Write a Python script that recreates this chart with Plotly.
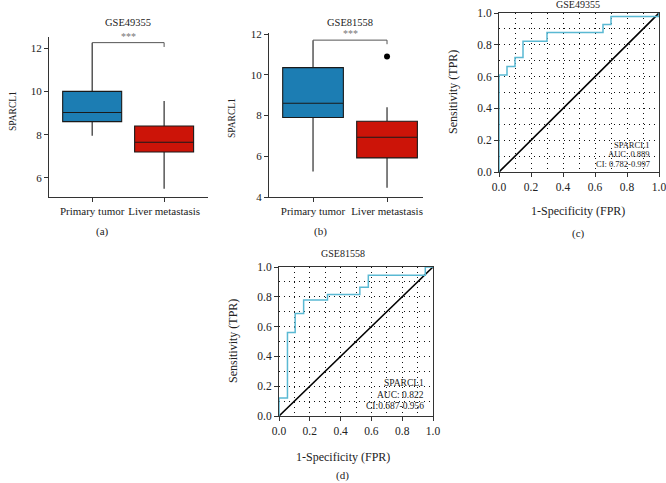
import plotly.graph_objects as go

FONT = "Liberation Serif"
BLUE = "#1c7db3"
RED = "#cc1408"
CYAN = "#5ab9d3"

groups = ["Primary tumor", "Liver metastasis"]

# panel (a) GSE49355 box stats
a_q1 = [8.6, 7.2]
a_med = [9.02, 7.65]
a_q3 = [10.0, 8.4]
a_low = [7.95, 5.5]
a_high = [12.25, 9.55]
a_bracket = [12.25, 12.05]

# panel (b) GSE81558 box stats
b_q1 = [7.9, 5.92]
b_med = [8.6, 6.93]
b_q3 = [10.35, 7.72]
b_low = [5.25, 4.45]
b_high = [11.7, 8.4]
b_outlier = [10.9]
b_bracket = [11.7, 11.5]

# ROC curves (step vertices)
c_fpr = [0, 0, 0.05, 0.1, 0.15, 0.3, 0.65, 0.7, 1.0]
c_tpr = [0, 0.61, 0.663, 0.72, 0.823, 0.877, 0.928, 0.978, 1.0]
c_text = ["SPARCL1", "AUC: 0.889", "CI: 0.782-0.997"]

d_fpr = [0, 0, 0.055, 0.105, 0.16, 0.315, 0.525, 0.58, 0.95, 1.0]
d_tpr = [0, 0.12, 0.56, 0.688, 0.778, 0.816, 0.864, 0.945, 1.0, 1.0]
d_text = ["SPARCL1", "AUC: 0.822", "CI:0.687-0.956"]

W, H = 666, 483


def px(x):
    return x / W


def py(y):
    return 1 - y / H


fig = go.Figure()
ann = []


def add_box_panel(n, q1, med, q3, low, high, bracket):
    xa = "x" if n == 1 else f"x{n}"
    ya = "y" if n == 1 else f"y{n}"
    for i, (g, col) in enumerate(zip(groups, [BLUE, RED])):
        fig.add_trace(go.Box(
            x=[g], q1=[q1[i]], median=[med[i]], q3=[q3[i]],
            lowerfence=[low[i]], upperfence=[high[i]],
            fillcolor=col, line=dict(color="#1a1a1a", width=1.1),
            whiskerwidth=0, width=0.82, boxpoints=False,
            xaxis=xa, yaxis=ya, showlegend=False, hoverinfo="skip"))
    fig.add_trace(go.Scatter(
        x=[groups[0], groups[0], groups[1], groups[1]],
        y=[high[0], bracket[0], bracket[0], bracket[1]],
        mode="lines", line=dict(color="#555", width=1),
        xaxis=xa, yaxis=ya, showlegend=False, hoverinfo="skip"))
    ann.append(dict(x=0.5, y=bracket[0], xref=xa, yref=ya, text="***",
                    showarrow=False, yanchor="bottom", yshift=-1,
                    font=dict(family=FONT, size=10, color="#777")))


add_box_panel(1, a_q1, a_med, a_q3, a_low, a_high, a_bracket)
add_box_panel(2, b_q1, b_med, b_q3, b_low, b_high, b_bracket)
fig.add_trace(go.Scatter(
    x=[groups[1]], y=b_outlier, mode="markers",
    marker=dict(color="black", size=6), xaxis="x2", yaxis="y2",
    showlegend=False, hoverinfo="skip"))


def add_roc(n, fpr, tpr):
    xa, ya = f"x{n}", f"y{n}"
    fig.add_trace(go.Scatter(x=[0, 1], y=[0, 1], mode="lines",
                             line=dict(color="black", width=1.6),
                             xaxis=xa, yaxis=ya, showlegend=False))
    fig.add_trace(go.Scatter(x=fpr, y=tpr, mode="lines", line_shape="hv",
                             line=dict(color=CYAN, width=1.5),
                             xaxis=xa, yaxis=ya, showlegend=False))


add_roc(3, c_fpr, c_tpr)
add_roc(4, d_fpr, d_tpr)

box_x = dict(type="category", categoryorder="array", categoryarray=groups,
             showline=True, linecolor="#333", linewidth=1, ticks="outside",
             ticklen=4, tickcolor="#333", automargin=False,
             tickfont=dict(family=FONT, size=11, color="#222"),
             showgrid=False, zeroline=False)
box_y = dict(showline=True, linecolor="#333", linewidth=1, ticks="outside",
             ticklen=4, tickcolor="#333", automargin=False,
             tickfont=dict(family=FONT, size=11, color="#222"), showgrid=False,
             zeroline=False, dtick=2)

roc_common = dict(range=[0, 1], showline=True, mirror=True, linecolor="#333",
                  linewidth=1, ticks="outside", ticklen=4, tickcolor="#333",
                  dtick=0.2, tickformat=".1f", automargin=False, ticklabeloverflow="allow",
                  tickfont=dict(family=FONT, size=11.5, color="#222"), zeroline=False,
                  showgrid=True, gridcolor="#111", gridwidth=1.4, griddash="1.4px,3.6px",
                  minor=dict(dtick=0.1, showgrid=True, gridcolor="#111", gridwidth=1.4,
                             griddash="1.4px,3.6px"))

# domains/ranges mapped from reference pixel positions
fig.update_layout(
    width=W, height=H, margin=dict(l=0, r=0, t=0, b=0, autoexpand=False),
    paper_bgcolor="white", plot_bgcolor="white",
    xaxis=dict(box_x, domain=[px(49), px(208)], range=[-0.6, 1.61], anchor="y"),
    yaxis=dict(box_y, domain=[py(197), py(37)], range=[5.12, 12.51], anchor="x"),
    xaxis2=dict(box_x, domain=[px(269), px(423)], range=[-0.595, 1.486], anchor="y2"),
    yaxis2=dict(box_y, domain=[py(197), py(33)], range=[4, 12.05], anchor="x2"),
    xaxis3=dict(roc_common, domain=[px(499), px(659)], anchor="y3"),
    yaxis3=dict(roc_common, domain=[py(172), py(13)], anchor="x3"),
    xaxis4=dict(roc_common, domain=[px(279), px(433)], anchor="y4"),
    yaxis4=dict(roc_common, domain=[py(416), py(267)], anchor="x4"),
)


def label(x, y, text, size=10.5, angle=0):
    ann.append(dict(x=px(x), y=py(y), xref="paper", yref="paper", text=text,
                    showarrow=False, textangle=angle,
                    font=dict(family=FONT, size=size, color="#222"),
                    xanchor="center", yanchor="middle"))


label(128, 22, "GSE49355", 10.5)
label(350, 22, "GSE81558", 10.5)
label(578, 4, "GSE49355", 10)
label(343, 253, "GSE81558", 10)
label(13, 111, "SPARCL1", 9.5, -90)
label(232, 118, "SPARCL1", 9.5, -90)
label(453, 92, "Sensitivity (TPR)", 12, -90)
label(233, 341, "Sensitivity (TPR)", 12, -90)
label(578, 211, "1-Specificity (FPR)", 12)
label(343, 457, "1-Specificity (FPR)", 12)
label(102, 232, "(a)", 11)
label(320, 232, "(b)", 11)
label(578, 233, "(c)", 11)
label(342, 475, "(d)", 11)

for n, lines, ys, size in [(3, c_text, [0.17, 0.113, 0.05], 8.5),
                           (4, d_text, [0.22, 0.14, 0.067], 9.5)]:
    for t, yv in zip(lines, ys):
        ann.append(dict(x=0.957, y=yv, xref=f"x{n}", yref=f"y{n}", text=t,
                        showarrow=False, xanchor="right", yanchor="middle",
                        font=dict(family=FONT, size=size, color="#222")))

fig.update_layout(annotations=ann)
# page body has a default 8px margin; drop it so the figure sits at the window origin
fig.write_html("out.html", config={"displayModeBar": False},
               post_script="document.body.style.margin='0';document.body.style.overflow='hidden';")
